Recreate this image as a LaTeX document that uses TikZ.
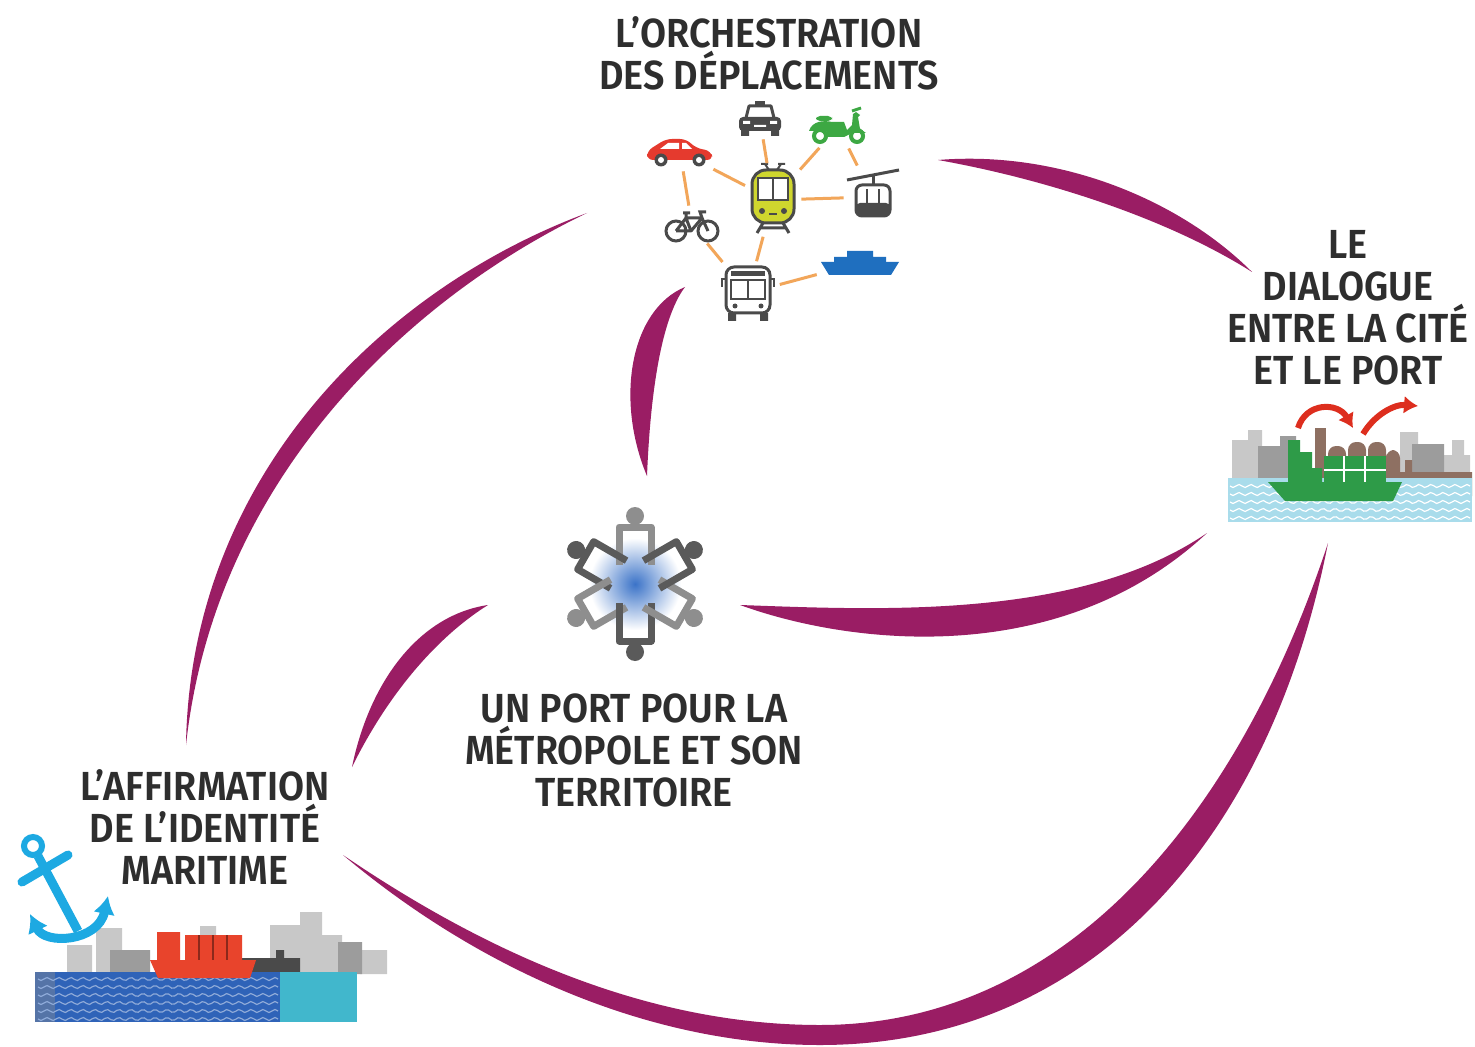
\documentclass[tikz,border=0pt]{standalone}
\usepackage{fontspec}
\setmainfont{Fira Sans}[FakeStretch=0.93, BoldFont={Fira Sans SemiBold}]
\usetikzlibrary{arrows.meta,positioning}
\definecolor{plum}{HTML}{9A1D64}
\definecolor{inkgray}{HTML}{2E2E2E}
\definecolor{iconpen}{HTML}{4A4A4A}
\definecolor{linkorange}{HTML}{F2A65A}
\definecolor{carred}{HTML}{E53A2E}
\definecolor{scootgreen}{HTML}{3DA843}
\definecolor{tramlime}{HTML}{CFD62E}
\definecolor{ferryblue}{HTML}{1F6FBF}
\definecolor{anchorcyan}{HTML}{1DA9E2}
\definecolor{seablue}{HTML}{2F63B8}
\definecolor{seateal}{HTML}{41B7CC}
\definecolor{lightsea}{HTML}{A9DCEB}
\definecolor{shipgreen}{HTML}{2E9B48}
\definecolor{shipred}{HTML}{E8442C}
\definecolor{brick}{HTML}{8E7062}
\definecolor{skylight}{HTML}{C8C8C8}
\definecolor{skymid}{HTML}{9C9C9C}
\definecolor{arrowred}{HTML}{DD2E1E}
\definecolor{glowblue}{HTML}{3B73C8}
\definecolor{peoplelight}{HTML}{8E8E8E}
\definecolor{peopledark}{HTML}{5A5A5A}

% transport icons, drawn around their own centre (y grows downwards)
\tikzset{
  taxicab/.pic={
    \fill[iconpen] (-5,-19) rectangle (5,-15);
    \draw[iconpen, line width=1.5pt, fill=white, line join=round] (-14,-2) -- (-11,-14) -- (11,-14) -- (14,-2);
    \fill[iconpen, rounded corners=2pt] (-21,-3) rectangle (21,11);
    \fill[white] (-17,1) rectangle (-10,4) (10,1) rectangle (17,4) (-6,5) rectangle (6,7);
    \fill[iconpen] (-19,10) rectangle (-11,16) (11,10) rectangle (19,16);
  },
  hatchback/.pic={
    \fill[carred, rounded corners=3pt] (-33,8) -- (-33,-1) -- (-14,-13) -- (6,-13) -- (16,-4) -- (31,-1) -- (33,8) -- cycle;
    \fill[white] (-20,-3) -- (-12,-9) -- (-1,-9) -- (-1,-3) -- cycle;
    \fill[white] (2,-3) -- (2,-9) -- (6,-9) -- (12,-3) -- cycle;
    \foreach \wx in {-19,19} {
      \fill[iconpen] (\wx,8) circle (6.5);
      \fill[white] (\wx,8) circle (3);
    }
  },
  scooter/.pic={
    \draw[scootgreen, line width=2pt, fill=white] (-18,9) circle (6) (19,9) circle (6);
    \fill[scootgreen] (-29,4) .. controls (-26,-6) and (-14,-7) .. (-6,-5) -- (6,-5) -- (9,3) -- (14,-2) -- (15,-13) -- (18,-15) -- (22,-12) -- (20,-10) -- (22,2) -- (28,6) -- (14,6) -- (6,10) -- (-10,10) -- (-12,4) -- cycle;
    \fill[scootgreen, rounded corners=2pt] (-22,-11) rectangle (-6,-6);
    \draw[scootgreen, line width=1.5pt] (14,-16) -- (23,-19);
  },
  tram/.pic={
    \draw[iconpen, line width=1pt] (-8,-36) -- (-4,-30) (8,-36) -- (4,-30) (-12,-36) -- (-5,-36) (5,-36) -- (12,-36);
    \draw[iconpen, line width=1.5pt, fill=tramlime, rounded corners=7pt] (-21,-30) rectangle (21,23);
    \draw[iconpen, line width=1.2pt, fill=white] (-15,-22) rectangle (15,0);
    \draw[iconpen, line width=1.2pt] (0,-22) -- (0,0);
    \fill[iconpen] (-11,11) circle (3) (11,11) circle (3);
    \draw[iconpen, line width=1pt] (-4,14) -- (4,14);
    \draw[iconpen, line width=1.5pt] (-10,23) -- (-16,33) (10,23) -- (16,33) (-13,28) -- (13,28);
  },
  gondola/.pic={
    \draw[iconpen, line width=1.5pt] (-26,-17) -- (26,-27);
    \draw[iconpen, line width=1.5pt] (0,-22) -- (0,-12);
    \draw[iconpen, line width=1.5pt, fill=white, rounded corners=3pt] (-17,-12) rectangle (17,19);
    \fill[iconpen, rounded corners=2pt] (-17,6) rectangle (17,19);
    \draw[iconpen, line width=1pt] (-6,-8) -- (-6,6) (6,-8) -- (6,6);
  },
  bicycle/.pic={
    \draw[iconpen, line width=1.5pt] (-16,6) circle (10) (16,6) circle (10);
    \draw[iconpen, line width=1.5pt, line join=round] (-16,6) -- (-6,-7) -- (10,-7) -- (16,6) (-6,-7) -- (-1,6) -- (-16,6) (-1,6) -- (10,-7);
    \draw[iconpen, line width=1.5pt] (10,-7) -- (8,-13) -- (14,-13) (-9,-12) -- (-2,-12) (-6,-7) -- (-6,-12);
  },
  ferry/.pic={
    \fill[ferryblue] (-39,-1) -- (39,-1) -- (31,12) -- (-31,12) -- cycle;
    \fill[ferryblue] (-26,0) -- (-26,-6) -- (-13,-6) -- (-13,-12) -- (13,-12) -- (13,-6) -- (26,-6) -- (26,0) -- cycle;
  },
  citybus/.pic={
    \draw[iconpen, line width=1.5pt, fill=white, rounded corners=4pt] (-22,-26) rectangle (22,20);
    \fill[iconpen] (-17,-22) rectangle (17,-17);
    \draw[iconpen, line width=1.2pt] (-17,-13) rectangle (17,6) (0,-13) -- (0,6);
    \fill[iconpen] (-13,13) circle (2.5) (13,13) circle (2.5);
    \fill[iconpen] (-20,20) rectangle (-12,28) (12,20) rectangle (20,28);
    \draw[iconpen, line width=1.2pt] (-22,-14) -- (-26,-14) -- (-26,-6) (22,-14) -- (26,-14) -- (26,-6);
  }
}

\begin{document}
\begin{tikzpicture}[
  x=0.5pt, y=-0.5pt,
  theme/.style={font=\bfseries\fontsize{20.3}{21}\selectfont, text=inkgray, align=center, inner sep=0pt},
  crescent/.style={fill=plum},
  icon/.style={inner sep=0pt},
  link/.style={draw=linkorange, line width=1.5pt, shorten >=2pt, shorten <=2pt}
]
\useasboundingbox (0,0) rectangle (1475,1047);
\fill[white] (0,0) rectangle (1475,1047);

% the four themes
\node[theme] (orch) at (769,53) {L'ORCHESTRATION\\DES DÉPLACEMENTS};
\node[theme] (dialogue) at (1348,308) {LE\\DIALOGUE\\ENTRE LA CITÉ\\ET LE PORT};
\node[theme] (port) at (634,750) {UN PORT POUR LA\\MÉTROPOLE ET SON\\TERRITOIRE};
\node[theme] (affirm) at (205,827) {L'AFFIRMATION\\DE L'IDENTITÉ\\MARITIME};

% crescents linking the themes
\fill[crescent] (938,160) .. controls (1060,150) and (1180,200) .. (1252,272) .. controls (1170,220) and (1050,180) .. (938,160) -- cycle;
\fill[crescent] (587,213) .. controls (380,290) and (190,480) .. (186,745) .. controls (214,485) and (402,302) .. (587,213) -- cycle;
\fill[crescent] (685,287) .. controls (630,310) and (615,400) .. (647,476) .. controls (650,400) and (660,320) .. (685,287) -- cycle;
\fill[crescent] (488,605) .. controls (420,615) and (370,680) .. (352,767) .. controls (390,690) and (440,635) .. (488,605) -- cycle;
\fill[crescent] (740,605) .. controls (850,645) and (1060,670) .. (1207,533) .. controls (1080,620) and (880,610) .. (740,605) -- cycle;
\fill[crescent] (343,855) .. controls (480,970) and (650,1045) .. (820,1045) .. controls (1090,1045) and (1270,840) .. (1328,543)
  .. controls (1240,810) and (1070,1025) .. (820,1025) .. controls (650,1025) and (490,955) .. (343,855) -- cycle;

% mobility hub
\node[icon, minimum width=20pt, minimum height=15pt] (taxi) at (760,120) {};
\node[icon, minimum width=30pt, minimum height=17.5pt] (moto) at (838,127) {};
\node[icon, minimum width=32.5pt, minimum height=15pt] (car) at (680,152) {};
\node[icon, minimum width=24pt, minimum height=32.5pt] (train) at (773,200) {};
\node[icon, minimum width=25pt, minimum height=27.5pt] (cable) at (873,197) {};
\node[icon, minimum width=29pt, minimum height=15pt] (bike) at (692,225) {};
\node[icon, minimum width=39pt, minimum height=12.5pt] (boat) at (860,263) {};
\node[icon, minimum width=27.5pt, minimum height=27.5pt] (bus) at (748,293) {};
\pic at (taxi) {taxicab};
\pic at (moto) {scooter};
\pic at (car) {hatchback};
\pic at (train) {tram};
\pic at (cable) {gondola};
\pic at (bike) {bicycle};
\pic at (boat) {ferry};
\pic at (bus) {citybus};
\draw[link] (taxi) -- (train);
\draw[link] (moto) -- (train);
\draw[link] (moto) -- (cable);
\draw[link] (car) -- (train);
\draw[link] (car) -- (bike);
\draw[link] (train) -- (cable);
\draw[link] (train) -- (bus);
\draw[link] (bike) -- (bus);
\draw[link] (bus) -- (boat);

% people around the metropolis
\coordinate (hub) at (635,584);
\shade[inner color=glowblue, outer color=white] (hub) circle (46);
\foreach \a/\c in {0/peoplelight,60/peopledark,120/peoplelight,180/peopledark,240/peoplelight,300/peopledark} {
  \begin{scope}[shift={(hub)}, rotate=\a]
    \draw[\c, line width=3.5pt, line join=round] (-16,-19) -- (-16,-57) -- (16,-57) -- (16,-19);
    \fill[\c] (0,-68) circle (9);
  \end{scope}
}

% city and port
\fill[skylight] (1232,440) rectangle (1252,480) (1248,430) rectangle (1262,480) (1400,432) rectangle (1418,480)
  (1440,455) rectangle (1470,480) (1452,440) rectangle (1464,480);
\fill[skymid] (1258,446) rectangle (1290,480) (1280,436) rectangle (1296,480) (1412,444) rectangle (1444,480);
\fill[brick] (1315,428) rectangle (1326,482);
\fill[brick, rounded corners=4pt] (1328,446) rectangle (1346,490) (1348,442) rectangle (1366,490) (1368,442) rectangle (1386,490) (1386,450) rectangle (1400,490);
\fill[brick] (1395,472) rectangle (1472,496) (1405,460) rectangle (1412,474);
\fill[lightsea] (1228,478) rectangle (1472,522);
\foreach \yy in {486,494,502,510,518}
  \draw[white, line width=0.6pt] plot[domain=0:240, samples=80] (\x+1230, {\yy+1.5*sin(\x*30)});
\fill[shipgreen] (1288,440) rectangle (1300,482) (1296,452) rectangle (1312,482) (1306,468) rectangle (1322,482);
\fill[shipgreen] (1324,456) rectangle (1386,484);
\draw[white, line width=1pt] (1324,470) -- (1386,470) (1344,456) -- (1344,484) (1365,456) -- (1365,484);
\fill[shipgreen] (1268,482) -- (1402,482) -- (1393,501) -- (1285,501) -- cycle;
\draw[arrowred, line width=3pt, -{Latex[length=7pt, width=9pt]}] (1298,428) .. controls (1306,402) and (1338,402) .. (1353,428);
\draw[arrowred, line width=3pt, -{Latex[length=7pt, width=9pt]}] (1363,434) .. controls (1375,414) and (1395,404) .. (1418,406);

% maritime identity
\fill[skylight] (67,945) rectangle (92,974) (96,928) rectangle (122,974) (200,926) rectangle (216,974)
  (270,925) rectangle (300,974) (300,912) rectangle (322,974) (315,935) rectangle (342,974) (360,950) rectangle (387,974);
\fill[skymid] (110,950) rectangle (150,974) (214,938) rectangle (232,974) (338,942) rectangle (362,974);
\fill[iconpen] (240,958) rectangle (300,976) (276,950) rectangle (284,960);
\fill[seablue] (37,972) rectangle (280,1022);
\fill[seateal] (280,972) rectangle (357,1022);
\fill[peoplelight!40!seablue] (35,972) rectangle (55,1022);
\foreach \yy in {979,987,995,1003,1011,1019}
  \draw[seablue!55!white, line width=0.6pt] plot[domain=0:240, samples=80] (\x+38, {\yy+1.5*sin(\x*30)});
\fill[shipred] (157,932) rectangle (180,962) (185,935) rectangle (242,962);
\draw[shipred!60!black, line width=0.6pt] (199,935) -- (199,962) (213,935) -- (213,962) (227,935) -- (227,962);
\fill[shipred] (150,960) -- (256,960) -- (250,978) -- (158,978) -- cycle;
\draw[anchorcyan, line width=3pt] (33,846) circle (9);
\draw[anchorcyan, line width=4.5pt] (38,856) -- (78,931);
\draw[anchorcyan, line width=4.5pt, line cap=round] (22,882) -- (68,855);
\draw[anchorcyan, line width=4.5pt, {Latex[length=9pt, width=11pt]}-{Latex[length=9pt, width=11pt]}] (30,914) .. controls (45,945) and (98,942) .. (108,896);
\end{tikzpicture}
\end{document}
